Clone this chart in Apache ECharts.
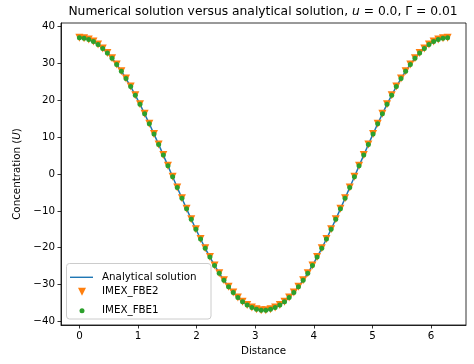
<!DOCTYPE html>
<html>
<head>
<meta charset="utf-8">
<script src="https://cdn.jsdelivr.net/npm/echarts@6/dist/echarts.min.js"></script>
<style>
html,body{margin:0;padding:0;background:#fff;}
#c{width:474px;height:364px;}
</style>
</head>
<body>
<div id="c"></div>
<script>
const distance = [0.000, 0.080, 0.159, 0.239, 0.318, 0.398, 0.477, 0.557, 0.636, 0.716,
  0.795, 0.875, 0.954, 1.034, 1.113, 1.193, 1.273, 1.352, 1.432, 1.511,
  1.591, 1.670, 1.750, 1.829, 1.909, 1.988, 2.068, 2.147, 2.227, 2.306,
  2.386, 2.466, 2.545, 2.625, 2.704, 2.784, 2.863, 2.943, 3.022, 3.102,
  3.181, 3.261, 3.340, 3.420, 3.500, 3.579, 3.659, 3.738, 3.818, 3.897,
  3.977, 4.056, 4.136, 4.215, 4.295, 4.374, 4.454, 4.533, 4.613, 4.693,
  4.772, 4.852, 4.931, 5.011, 5.090, 5.170, 5.249, 5.329, 5.408, 5.488,
  5.567, 5.647, 5.726, 5.806, 5.886, 5.965, 6.045, 6.124, 6.204, 6.283];

const analytical = [37.0, 36.88, 36.53, 35.95, 35.14, 34.11, 32.87, 31.41, 29.76, 27.92,
  25.91, 23.73, 21.40, 18.94, 16.34, 13.65, 10.87, 8.03, 5.13, 2.21,
  -0.74, -3.67, -6.59, -9.46, -12.27, -15.00, -17.65, -20.17, -22.57, -24.83,
  -26.93, -28.86, -30.61, -32.16, -33.52, -34.66, -35.58, -36.27, -36.74, -36.97,
  -36.97, -36.74, -36.27, -35.58, -34.66, -33.52, -32.16, -30.61, -28.86, -26.93,
  -24.83, -22.57, -20.17, -17.65, -15.00, -12.27, -9.46, -6.59, -3.67, -0.74,
  2.21, 5.13, 8.03, 10.87, 13.65, 16.34, 18.94, 21.40, 23.73, 25.91,
  27.92, 29.76, 31.41, 32.87, 34.11, 35.14, 35.95, 36.53, 36.88, 37.0];

const imexFbe2 = [37.0, 36.88, 36.53, 35.95, 35.14, 34.11, 32.87, 31.41, 29.76, 27.92,
  25.91, 23.73, 21.40, 18.94, 16.34, 13.65, 10.87, 8.03, 5.13, 2.21,
  -0.74, -3.67, -6.59, -9.46, -12.27, -15.00, -17.65, -20.17, -22.57, -24.83,
  -26.93, -28.86, -30.61, -32.16, -33.52, -34.66, -35.58, -36.27, -36.74, -36.97,
  -36.97, -36.74, -36.27, -35.58, -34.66, -33.52, -32.16, -30.61, -28.86, -26.93,
  -24.83, -22.57, -20.17, -17.65, -15.00, -12.27, -9.46, -6.59, -3.67, -0.74,
  2.21, 5.13, 8.03, 10.87, 13.65, 16.34, 18.94, 21.40, 23.73, 25.91,
  27.92, 29.76, 31.41, 32.87, 34.11, 35.14, 35.95, 36.53, 36.88, 37.0];

const imexFbe1 = [37.0, 36.88, 36.53, 35.95, 35.14, 34.11, 32.87, 31.41, 29.76, 27.92,
  25.91, 23.73, 21.40, 18.94, 16.34, 13.65, 10.87, 8.03, 5.13, 2.21,
  -0.74, -3.67, -6.59, -9.46, -12.27, -15.00, -17.65, -20.17, -22.57, -24.83,
  -26.93, -28.86, -30.61, -32.16, -33.52, -34.66, -35.58, -36.27, -36.74, -36.97,
  -36.97, -36.74, -36.27, -35.58, -34.66, -33.52, -32.16, -30.61, -28.86, -26.93,
  -24.83, -22.57, -20.17, -17.65, -15.00, -12.27, -9.46, -6.59, -3.67, -0.74,
  2.21, 5.13, 8.03, 10.87, 13.65, 16.34, 18.94, 21.40, 23.73, 25.91,
  27.92, 29.76, 31.41, 32.87, 34.11, 35.14, 35.95, 36.53, 36.88, 37.0];

const xTicks = [0, 1, 2, 3, 4, 5, 6];
const yTicks = [-40, -30, -20, -10, 0, 10, 20, 30, 40];

const FONT = 'DejaVu Sans';
const triPath = 'path://M-1,-1 L1,-1 L0,1 Z';
const linePath = 'path://M0,0 L24,0 L24,1.5 L0,1.5 Z';

function pairs(xs, ys) { return xs.map((x, i) => [x, ys[i]]); }
function minusFmt(v) { return String(v).replace('-', '\u2212'); }

const chart = echarts.init(document.getElementById('c'), null, {renderer: 'canvas'});

const axisCommon = {
  type: 'value',
  splitLine: {show: false},
  axisLine: {show: true, onZero: false, lineStyle: {color: '#000', width: 0.8}},
  axisTick: {show: true, inside: false, length: 3.5, lineStyle: {color: '#000', width: 0.8}},
  axisLabel: {color: '#000', fontFamily: FONT, fontSize: 10.3, formatter: minusFmt}
};

const legendText = (pad) => ({color: '#000', fontFamily: FONT, fontSize: 10.3, padding: [0, 0, 0, pad]});

chart.setOption({
  animation: false,
  backgroundColor: '#fff',
  grid: {left: 61, right: 8, top: 23, bottom: 39, show: true, borderColor: '#000', borderWidth: 0.8, backgroundColor: 'transparent'},
  xAxis: Object.assign({}, axisCommon, {
    min: -0.314, max: 6.597,
    axisTick: Object.assign({}, axisCommon.axisTick, {customValues: xTicks}),
    axisLabel: Object.assign({}, axisCommon.axisLabel, {customValues: xTicks, margin: 6}),
    name: 'Distance', nameLocation: 'middle', nameGap: 21,
    nameTextStyle: {color: '#000', fontFamily: FONT, fontSize: 10.3}
  }),
  yAxis: Object.assign({}, axisCommon, {
    min: -41, max: 41,
    axisTick: Object.assign({}, axisCommon.axisTick, {customValues: yTicks}),
    axisLabel: Object.assign({}, axisCommon.axisLabel, {customValues: yTicks, margin: 6}),
    name: 'Concentration ({i|U})', nameLocation: 'middle', nameGap: 36,
    nameTextStyle: {color: '#000', fontFamily: FONT, fontSize: 10.3,
      rich: {i: {fontStyle: 'italic', fontFamily: FONT, fontSize: 10.3, color: '#000'}}}
  }),
  graphic: [
    {type: 'text', x: 263, y: 12, z: 10,
      style: {text: 'Numerical solution versus analytical solution, {i|u} = 0.0, \u0393 = 0.01',
        fill: '#000', font: '12.3px "DejaVu Sans"', align: 'center', verticalAlign: 'middle',
        rich: {i: {fontStyle: 'italic', fontFamily: FONT, fontSize: 12.3, fill: '#000'}}}},
    {type: 'rect', z: 3, shape: {x: 66.5, y: 263.5, width: 144.5, height: 55.5, r: 3},
      style: {fill: 'rgba(255,255,255,0.8)', stroke: '#cccccc', lineWidth: 1}}
  ],
  legend: [
    {data: [{name: 'Analytical solution', icon: linePath}], left: 70, top: 272.3, padding: 0,
      itemWidth: 23, itemHeight: 1.5, z: 4, textStyle: legendText(4)},
    {data: [{name: 'IMEX_FBE2', icon: triPath}], left: 78, top: 286.7, padding: 0,
      itemWidth: 8, itemHeight: 8, z: 4, textStyle: legendText(11)},
    {data: [{name: 'IMEX_FBE1', icon: 'circle'}], left: 79.5, top: 305.8, padding: 0,
      itemWidth: 5, itemHeight: 5, z: 4, textStyle: legendText(12.5)}
  ],
  series: [
    {name: 'Analytical solution', type: 'line', data: pairs(distance, analytical),
      symbol: 'none', smooth: false, z: 2,
      lineStyle: {color: '#1f77b4', width: 1.5}, itemStyle: {color: '#1f77b4'}},
    {name: 'IMEX_FBE2', type: 'scatter', data: pairs(distance, imexFbe2),
      symbol: triPath, symbolSize: 8, z: 3,
      itemStyle: {color: '#ff7f0e', opacity: 1}},
    {name: 'IMEX_FBE1', type: 'scatter', data: pairs(distance, imexFbe1),
      symbol: 'circle', symbolSize: 5, z: 4,
      itemStyle: {color: '#2ca02c', opacity: 1}}
  ]
});
</script>
</body>
</html>
